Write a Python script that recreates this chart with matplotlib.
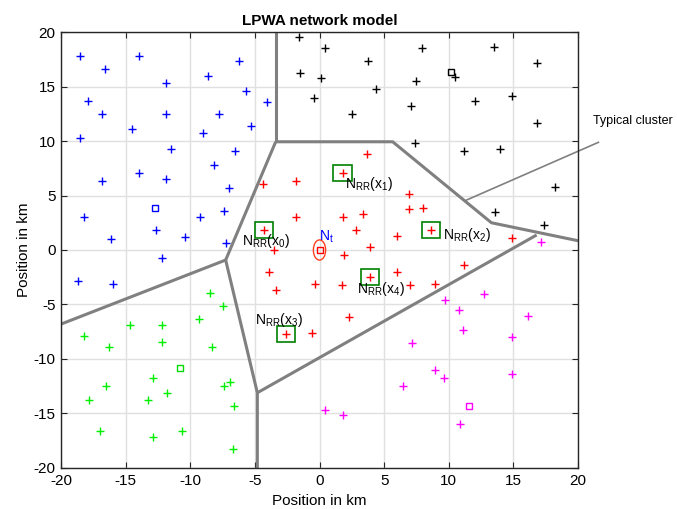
import matplotlib
matplotlib.use("Agg")
import matplotlib.pyplot as plt
from matplotlib.patches import Ellipse, Rectangle

plt.rcParams['font.family'] = ['Liberation Sans', 'DejaVu Sans']
plt.rcParams['mathtext.fontset'] = 'custom'
plt.rcParams['mathtext.rm'] = 'Liberation Sans'
plt.rcParams['mathtext.it'] = 'Liberation Sans'
plt.rcParams['axes.unicode_minus'] = False

# cluster members (km)
blue_x = [-18.5, -16.6, -14.0, -6.2, -11.9, -8.6, -5.7, -4.1, -17.9, -16.8, -11.9, -7.75,
          -5.3, -14.5, -9.0, -18.5, -11.5, -6.5, -8.2, -14.0, -11.9, -16.85, -7.0, -18.2,
          -9.25, -7.4, -12.65, -10.4, -16.1, -7.2, -12.2, -18.7, -16.0]
blue_y = [17.8, 16.6, 17.8, 17.3, 15.35, 16.0, 14.6, 13.6, 13.7, 12.5, 12.5, 12.5,
          11.4, 11.1, 10.7, 10.3, 9.27, 9.08, 7.83, 7.03, 6.54, 6.3, 5.69, 3.0,
          3.03, 3.55, 1.8, 1.16, 0.98, 0.61, -0.7, -2.84, -3.15]

black_x = [-1.59, 0.43, -1.49, 0.12, -0.43, 7.9, 13.5, 3.78, 16.8, 7.47, 10.5, 4.37,
           12.0, 14.9, 2.54, 7.1, 16.8, 7.4, 11.2, 14.0, 18.2, 13.6, 17.4]
black_y = [19.5, 18.5, 16.2, 15.8, 13.9, 18.5, 18.6, 17.3, 17.2, 15.5, 15.9, 14.8,
           13.7, 14.1, 12.5, 13.2, 11.65, 9.8, 9.1, 9.3, 5.8, 3.49, 2.26]

red_x = [3.7, 1.79, -4.4, -1.84, 6.92, 6.92, 8.0, -1.84, 1.79, 3.39, 2.82, 6.0, 8.63,
         -4.27, -3.52, 3.9, 1.92, -3.9, 3.9, 6.0, -0.37, 1.76, 7.03, 8.96, -3.37, 2.28,
         -0.56, -2.6, 14.9, 11.2]
red_y = [8.8, 7.1, 6.03, 6.36, 5.14, 3.73, 3.88, 3.03, 3.03, 3.27, 1.8, 1.28, 1.8,
         1.83, -0.03, 0.3, -0.43, -2.0, -2.45, -1.99, -3.12, -3.18, -3.18, -3.12, -3.7, -6.18,
         -7.58, -7.7, 1.07, -1.4]

magenta_x = [12.75, 9.73, 10.8, 16.1, 11.1, 7.16, 14.9, 8.94, 9.66, 14.9, 6.43, 0.43,
             1.82, 10.85, 17.1]
magenta_y = [-4.0, -4.6, -5.5, -6.1, -7.3, -8.5, -8.0, -11.0, -11.7, -11.35, -12.5, -14.7,
             -15.1, -16.0, 0.7]

green_x = [-8.5, -7.47, -14.66, -12.2, -9.3, -18.2, -16.3, -12.2, -8.3, -12.9, -6.9, -7.4,
           -16.5, -11.8, -17.8, -13.3, -6.64, -16.96, -10.64, -12.9, -6.67]
green_y = [-3.9, -5.14, -6.9, -6.9, -6.33, -7.9, -8.9, -8.47, -8.87, -11.7, -12.1, -12.5,
           -12.5, -13.1, -13.8, -13.8, -14.3, -16.6, -16.6, -17.2, -18.3]

# cluster heads
head_x = [-12.7, 10.2, 0.0, 11.6, -10.8]
head_y = [3.88, 16.3, 0.0, -14.3, -10.8]
head_c = ['#0000ff', '#000000', '#ff0000', '#ff00ff', '#00dd00']

# nearest receivers N_RR(x_i)
nrr_x = [-4.27, 1.79, 8.63, -2.6, 3.9]
nrr_y = [1.83, 7.1, 1.8, -7.7, -2.45]
nrr_lx = [-5.97, 1.97, 9.58, -4.99, 2.88]
nrr_ly = [0.83, 6.05, 1.38, -6.42, -3.6]

# cell boundaries
edges = [
    ([-3.39, -3.39], [20, 9.93]),
    ([-3.39, 5.66, 13.3, 20], [9.93, 9.93, 2.5, 0.85]),
    ([-3.39, -7.26], [9.93, -0.92]),
    ([-7.26, -20], [-0.92, -6.8]),
    ([-7.26, -4.81, -4.81], [-0.92, -13.1, -20]),
    ([-4.81, 16.8], [-13.1, 1.38]),
]

fig = plt.figure(figsize=(6.77, 5.09), dpi=100)
ax = fig.add_axes([0.0901, 0.0806, 0.7637, 0.8565])

for ex, ey in edges:
    ax.plot(ex, ey, color='#808080', lw=2.2, solid_capstyle='butt', zorder=2)

ms = 6
ax.plot(blue_x, blue_y, '+', color='#0000ff', ms=ms, mew=1.0, zorder=3)
ax.plot(black_x, black_y, '+', color='#000000', ms=ms, mew=1.0, zorder=3)
ax.plot(red_x, red_y, '+', color='#ff0000', ms=ms, mew=1.0, zorder=3)
ax.plot(magenta_x, magenta_y, '+', color='#ff00ff', ms=ms, mew=1.0, zorder=3)
ax.plot(green_x, green_y, '+', color='#00ee00', ms=ms, mew=1.0, zorder=3)
for hx, hy, hc in zip(head_x, head_y, head_c):
    ax.plot(hx, hy, 's', mfc='none', mec=hc, ms=4, mew=1.0, zorder=3)

for i, (x, y, lx, ly) in enumerate(zip(nrr_x, nrr_y, nrr_lx, nrr_ly)):
    ax.add_patch(Rectangle((x - 0.71, y - 0.73), 1.42, 1.46, fill=False,
                           ec='#008000', lw=1.2, zorder=4))
    ax.text(lx, ly, r'N$_{\mathrm{RR}}$(x$_{%d}$)' % i, fontsize=10,
            ha='left', va='center', zorder=5)

ax.add_patch(Ellipse((0, 0), 0.95, 1.85, fill=False, ec='#ff4020', lw=1.0, zorder=4))
ax.text(-0.04, 1.17, r'N$_{\mathrm{t}}$', color='#0000ff', fontsize=10,
        ha='left', va='center', zorder=5)

ax.plot([11.39, 21.58], [4.59, 9.88], color='#808080', lw=1.2, clip_on=False, zorder=2)
ax.text(21.14, 11.86, 'Typical cluster', fontsize=9, ha='left', va='center')

ax.set_xlim(-20, 20)
ax.set_ylim(-20, 20)
ax.set_xticks(range(-20, 21, 5))
ax.set_yticks(range(-20, 21, 5))
ax.grid(True, color='#e0e0e0', lw=1.0)
ax.set_axisbelow(True)
ax.tick_params(direction='in', top=True, right=True, labelsize=11,
               color='#262626', length=4, pad=4)
for s in ax.spines.values():
    s.set_color('#262626')
    s.set_linewidth(1.0)

ax.set_title('LPWA network model', fontsize=11, fontweight='bold', pad=5)
ax.set_xlabel('Position in km', fontsize=11, labelpad=5)
ax.set_ylabel('Position in km', fontsize=11, labelpad=2)

fig.savefig('out.png', dpi=100)
